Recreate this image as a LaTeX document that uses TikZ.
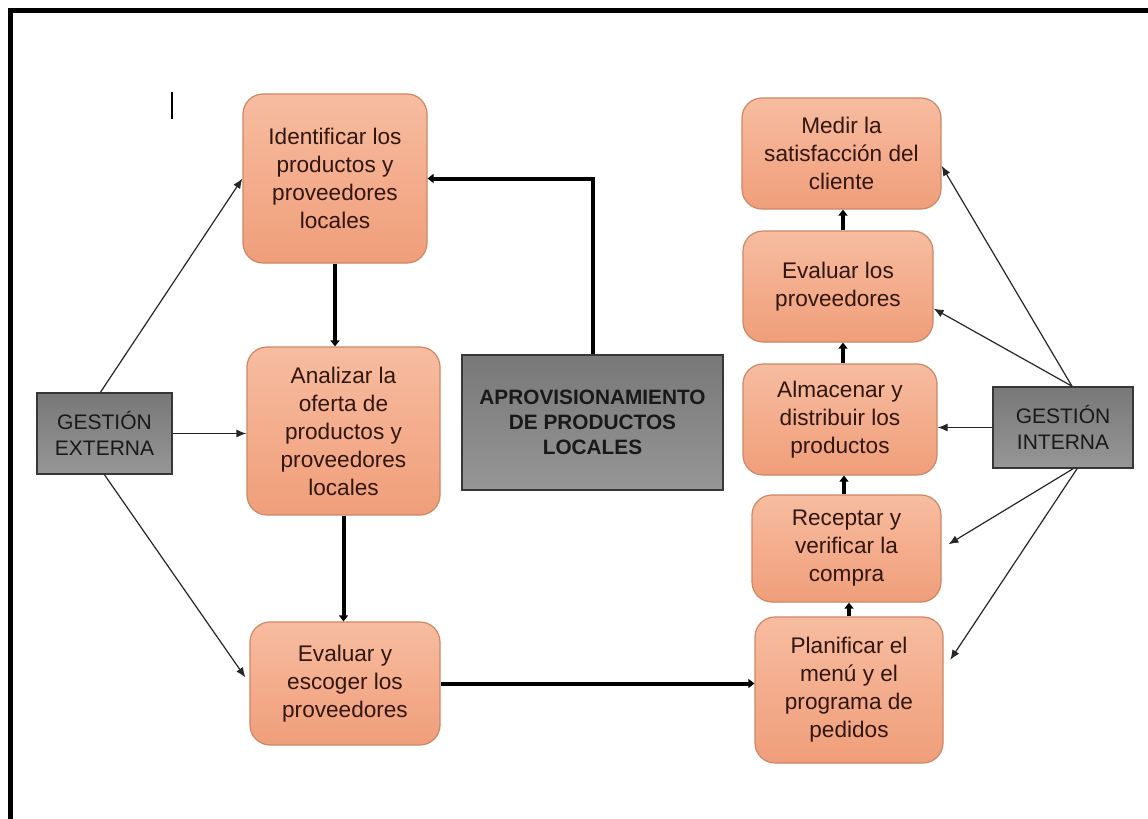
\documentclass[tikz,border=0pt]{standalone}
\usepackage{fontspec}
\setmainfont{Liberation Sans}
\usetikzlibrary{arrows.meta}
\definecolor{pasotop}{RGB}{247, 188, 160}
\definecolor{pasobot}{RGB}{240, 158, 122}
\definecolor{pasoborde}{RGB}{205, 135, 100}
\definecolor{pasotexto}{RGB}{50, 22, 16}
\definecolor{gristop}{RGB}{120, 120, 120}
\definecolor{grisbot}{RGB}{150, 150, 150}
\definecolor{grisborde}{RGB}{55, 55, 55}
\definecolor{gristexto}{RGB}{25, 25, 25}

\begin{document}
\begin{tikzpicture}[
    x=0.5pt, y=-0.5pt,
    paso/.style={draw=pasoborde, line width=0.6pt, rounded corners=10pt,
        top color=pasotop, bottom color=pasobot, text=pasotexto,
        align=center, inner sep=2pt, font=\fontsize{11.3}{14}\selectfont},
    gestion/.style={draw=grisborde, line width=0.8pt, top color=gristop,
        bottom color=grisbot, text=gristexto, align=center, inner sep=2pt,
        font=\fontsize{10.5}{13}\selectfont},
    fina/.style={-{Latex[length=5pt, width=4pt]}, line width=0.6pt, draw=black!85},
    gruesa/.style={-{Triangle[length=3pt, width=4.5pt]}, line width=2pt}
]
\useasboundingbox (0,0) rectangle (1148,819);

% === Marco ===
\draw[line width=2.5pt] (10.5,819) -- (10.5,10.5) -- (1148,10.5);
\draw[line width=0.8pt] (172,92) -- (172,119);

% === Columna izquierda ===
\node[paso, minimum width=92pt, minimum height=84.5pt] (ident) at (335,178.5)
    {Identificar los\\productos y\\proveedores\\locales};
\node[paso, minimum width=96.5pt, minimum height=84pt] (analiz) at (343.5,431)
    {Analizar la\\oferta de\\productos y\\proveedores\\locales};
\node[paso, minimum width=95pt, minimum height=61.5pt] (escoger) at (345,683.5)
    {Evaluar y\\escoger los\\proveedores};

% === Bloques grises ===
\node[gestion, minimum width=67.5pt, minimum height=40.5pt] (gext) at (104.5,433.5)
    {GESTIÓN\\EXTERNA};
\node[gestion, minimum width=70pt, minimum height=40.5pt] (gint) at (1063,427.5)
    {GESTIÓN\\INTERNA};
\node[gestion, minimum width=130.5pt, minimum height=67.5pt,
    font=\fontsize{10.4}{12.5}\selectfont\bfseries] (aprov) at (592.5,422.5)
    {APROVISIONAMIENTO\\DE PRODUCTOS\\LOCALES};

% === Columna derecha ===
\node[paso, minimum width=99.5pt, minimum height=55.5pt] (medir) at (841.5,153.5)
    {Medir la\\satisfacción del\\cliente};
\node[paso, minimum width=95pt, minimum height=55.5pt] (evalprov) at (838,286.5)
    {Evaluar los\\proveedores};
\node[paso, minimum width=97pt, minimum height=55.5pt] (almac) at (840,419.5)
    {Almacenar y\\distribuir los\\productos};
\node[paso, minimum width=94.5pt, minimum height=53.5pt] (recep) at (846.5,548.5)
    {Receptar y\\verificar la\\compra};
\node[paso, minimum width=94pt, minimum height=73pt] (planif) at (849,690)
    {Planificar el\\menú y el\\programa de\\pedidos};

% === Flujo principal ===
\draw[gruesa] (aprov.north) |- (ident.east);
\draw[gruesa] (ident.south) -- (ident.south |- analiz.north);
\draw[gruesa] (analiz.south) -- (analiz.south |- escoger.north);
\draw[gruesa] (escoger.east) -- (escoger.east -| planif.west);
\draw[gruesa] (planif.north) -- (planif.north |- recep.south);
\draw[gruesa] (recep.north -| almac.south) ++(4,0) coordinate (r1) -- (r1 |- almac.south);
\draw[gruesa] (almac.north) ++(3,0) coordinate (a1) -- (a1 |- evalprov.south);
\draw[gruesa] (evalprov.north) ++(5,0) coordinate (e1) -- (e1 |- medir.south);

% === Gestión externa ===
\draw[fina] (gext.north) ++(-4,0) -- (ident.west);
\draw[fina] (gext.east) -- (gext.east -| analiz.west);
\draw[fina] (gext.south) -- ([xshift=-2pt,yshift=3pt]escoger.west);

% === Gestión interna ===
\draw[fina] (gint.north) ++(9,0) coordinate (g1) -- (medir.-7);
\draw[fina] (g1) -- (evalprov.-13);
\draw[fina] (gint.west) -- (gint.west -| almac.east);
\draw[fina, shorten >=4pt] (gint.south) ++(10,0) coordinate (g2) -- (recep.east);
\draw[fina, shorten >=6pt] (g2) ++(4,0) -- (planif.12);

\end{tikzpicture}
\end{document}
